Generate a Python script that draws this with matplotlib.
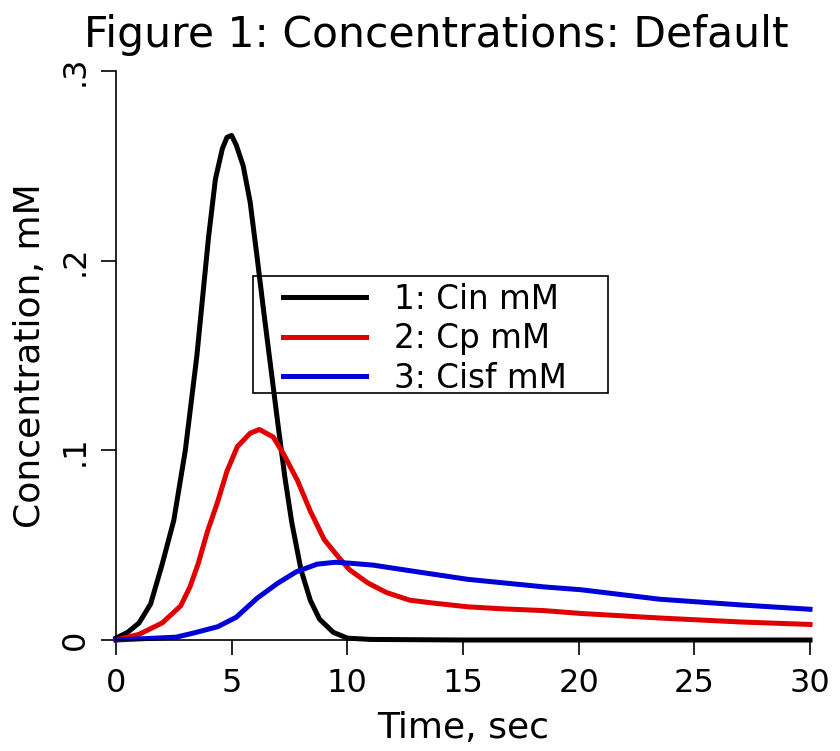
import matplotlib
matplotlib.use("Agg")
import matplotlib.pyplot as plt
from matplotlib.patches import Rectangle

# Concentration curves (time in sec, conc in mM)
t_cin = [0, 0.5, 1.0, 1.5, 2.0, 2.5, 3.0, 3.5, 4.0, 4.3, 4.6, 4.8, 5.0, 5.2, 5.5, 5.8,
         6.1, 6.4, 6.7, 7.0, 7.3, 7.6, 8.0, 8.4, 8.8, 9.4, 10.0, 11.0, 15.0, 20.0, 25.0, 30.0]
cin = [0.001, 0.004, 0.009, 0.019, 0.040, 0.063, 0.100, 0.150, 0.212, 0.243, 0.259, 0.265,
       0.266, 0.261, 0.250, 0.231, 0.202, 0.172, 0.143, 0.114, 0.086, 0.062, 0.037, 0.021,
       0.011, 0.004, 0.001, 0.0003, 0.0, 0.0, 0.0, 0.0]

t_cp = [0, 1.0, 2.0, 2.8, 3.2, 3.55, 3.95, 4.4, 4.8, 5.25, 5.8, 6.2, 6.8, 7.25, 7.85,
        8.4, 9.0, 9.6, 10.1, 10.9, 11.7, 12.7, 13.7, 15.2, 16.6, 18.5, 20.1, 23.5, 27.0, 30.0]
cp = [0.0, 0.003, 0.009, 0.018, 0.028, 0.040, 0.057, 0.073, 0.089, 0.102, 0.109, 0.111,
      0.107, 0.098, 0.084, 0.068, 0.053, 0.044, 0.037, 0.030, 0.025, 0.021, 0.0195, 0.0175,
      0.0165, 0.0155, 0.014, 0.0116, 0.0095, 0.0082]

t_cisf = [0, 2.6, 3.3, 4.4, 5.2, 6.1, 7.0, 7.8, 8.7, 9.5, 10.1, 11.1, 13.0, 15.2, 18.5,
          20.1, 23.5, 27.0, 30.0]
cisf = [0.0, 0.0015, 0.0035, 0.007, 0.012, 0.022, 0.030, 0.036, 0.040, 0.041, 0.0405,
        0.0395, 0.036, 0.032, 0.028, 0.0265, 0.0215, 0.0185, 0.0162]

labels = ["1: Cin mM", "2: Cp mM", "3: Cisf mM"]
x_ticks = [0, 5, 10, 15, 20, 25, 30]
y_ticks = [0, 0.1, 0.2, 0.3]
y_ticklabels = ["0", ".1", ".2", ".3"]

plt.rcParams["font.family"] = ["DejaVu Sans"]

fig = plt.figure(figsize=(8.4, 7.51), dpi=100)
ax = fig.add_axes([0.138, 0.1478, 0.8263, 0.7577])

ax.plot(t_cin, cin, color="black", lw=3.6, label=labels[0], clip_on=False)
ax.plot(t_cp, cp, color="#e00000", lw=3.6, label=labels[1], clip_on=False)
ax.plot(t_cisf, cisf, color="#0000d8", lw=3.6, label=labels[2], clip_on=False)

ax.set_xlim(0, 30)
ax.set_ylim(0, 0.3)
ax.set_xticks(x_ticks)
ax.set_yticks(y_ticks)
ax.set_yticklabels(y_ticklabels, rotation=90, va="center")

for side in ["top", "right"]:
    ax.spines[side].set_visible(False)
for side in ["left", "bottom"]:
    ax.spines[side].set_linewidth(1.2)

ax.tick_params(axis="both", direction="out", length=11, width=1.2, labelsize=23)
ax.tick_params(axis="x", pad=9)
ax.tick_params(axis="y", pad=7)

ax.set_xlabel("Time, sec", fontsize=26, labelpad=9)
ax.set_ylabel("Concentration, mM", fontsize=26, labelpad=9)

fig.text(0.519, 0.937, "Figure 1: Concentrations: Default", fontsize=30.6,
         ha="center", va="baseline")

# legend box drawn separately so the padding matches the original
ax.add_patch(Rectangle((0.197, 0.434), 0.512, 0.206, transform=ax.transAxes,
                       fill=False, edgecolor="black", lw=1.2, zorder=5))
ax.legend(loc="upper left", bbox_to_anchor=(0.2406, 0.628), frameon=False,
          fontsize=23.5, handlelength=2.55, handletextpad=0.85, labelspacing=0.2,
          borderaxespad=0, borderpad=0)

fig.savefig("out.png", dpi=100)
